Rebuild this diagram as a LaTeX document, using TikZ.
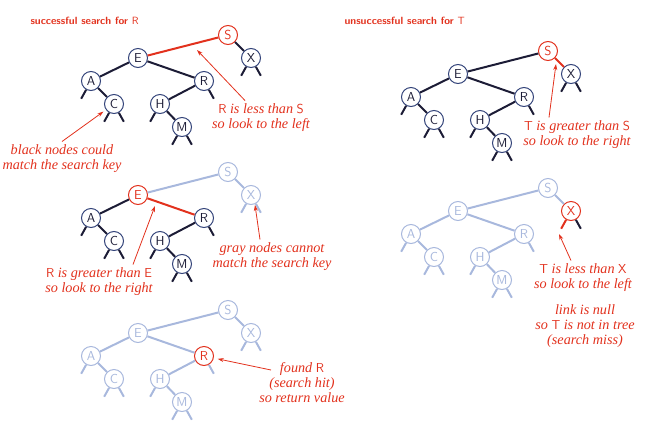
\documentclass[tikz,border=0pt]{standalone}
\usepackage{fontspec}
\usetikzlibrary{arrows.meta}

\newfontfamily\notefont{Liberation Serif}

\definecolor{hitred}{HTML}{E2311D}
\definecolor{keyblue}{HTML}{34447A}
\definecolor{linkdark}{HTML}{1C1C36}
\definecolor{fadeblue}{HTML}{A8B8DD}

\tikzset{
  key/.style={circle, draw=keyblue, fill=white, text=linkdark, line width=1pt,
    minimum size=19pt, inner sep=0pt, font=\sffamily\fontsize{13}{13}\selectfont},
  link/.style={draw=linkdark, line width=2pt},
  hit/.style={draw=hitred, text=hitred},
  faded/.style={draw=fadeblue, text=fadeblue},
  live/.style={draw=linkdark},
  note/.style={text=hitred, align=center, font=\notefont\itshape\fontsize{14.2}{15}\selectfont},
  title/.style={anchor=west, text=hitred, font=\sffamily\bfseries\fontsize{10.5}{12}\selectfont},
  pointer/.style={draw=hitred, line width=0.8pt, -{Stealth[length=6pt,width=4pt]}}
}

\newcommand{\kw}[1]{{\upshape\sffamily\fontsize{13}{15}\selectfont #1}}

% #1 tree name, #2 root position, #3 base style
\newcommand{\bsttree}[3]{%
  \begin{scope}[shift={#2}]
    \node[key, #3, #1S/.try] (#1S) at (0,0) {S};
    \node[key, #3, #1X/.try] (#1X) at (23,23) {X};
    \node[key, #3, #1E/.try] (#1E) at (-90,23) {E};
    \node[key, #3, #1A/.try] (#1A) at (-137,46) {A};
    \node[key, #3, #1C/.try] (#1C) at (-114,69) {C};
    \node[key, #3, #1R/.try] (#1R) at (-24,46) {R};
    \node[key, #3, #1H/.try] (#1H) at (-68,69) {H};
    \node[key, #3, #1M/.try] (#1M) at (-46,92) {M};

    \draw[link, #3, #1SE/.try] (#1S) -- (#1E);
    \draw[link, #3, #1SX/.try] (#1S) -- (#1X);
    \draw[link, #3, #1EA/.try] (#1E) -- (#1A);
    \draw[link, #3, #1ER/.try] (#1E) -- (#1R);
    \draw[link, #3, #1AC/.try] (#1A) -- (#1C);
    \draw[link, #3, #1RH/.try] (#1R) -- (#1H);
    \draw[link, #3, #1HM/.try] (#1H) -- (#1M);

    % null links
    \draw[link, #3, #1Al/.try] (#1A.-119) -- ++(-5,9);
    \draw[link, #3, #1Cl/.try] (#1C.-119) -- ++(-5,9);
    \draw[link, #3, #1Cr/.try] (#1C.-61) -- ++(5,9);
    \draw[link, #3, #1Hl/.try] (#1H.-119) -- ++(-5,9);
    \draw[link, #3, #1Ml/.try] (#1M.-119) -- ++(-5,9);
    \draw[link, #3, #1Mr/.try] (#1M.-61) -- ++(5,9);
    \draw[link, #3, #1Rr/.try] (#1R.-61) -- ++(5,9);
    \draw[link, #3, #1Xl/.try] (#1X.-119) -- ++(-5,9);
    \draw[link, #3, #1Xr/.try] (#1X.-61) -- ++(5,9);
  \end{scope}%
}

\tikzset{
  t1S/.style=hit, t1SE/.style=hit,
  t2S/.style=hit, t2SX/.style=hit,
  t3S/.style=faded, t3X/.style=faded, t3SE/.style=faded, t3SX/.style=faded,
  t3Xl/.style=faded, t3Xr/.style=faded, t3E/.style=hit, t3ER/.style=hit,
  t4X/.style=hit, t4Xl/.style=hit, t4Xr/.style=live,
  t5R/.style=hit
}

\begin{document}
\begin{tikzpicture}[x=1pt, y=-1pt]
  \useasboundingbox (0,0) rectangle (646,421);

  \bsttree{t1}{(228,35)}{}
  \bsttree{t2}{(548,51)}{}
  \bsttree{t3}{(228,172)}{}
  \bsttree{t4}{(548,188)}{faded}
  \bsttree{t5}{(228,310)}{faded}

  \node[title] (hitTitle) at (27,21) {successful search for {\mdseries R}};
  \node[title] (missTitle) at (341,21) {unsuccessful search for {\mdseries T}};

  \node[note] (lessS) at (261,118) {\kw{R} is less than \kw{S}\\so look to the left};
  \node[note] (blackNote) at (62,159) {black nodes could\\match the search key};
  \node[note] (grayNote) at (272,257) {gray nodes cannot\\match the search key};
  \node[note] (greaterE) at (99,282) {\kw{R} is greater than \kw{E}\\so look to the right};
  \node[note] (greaterS) at (577,135) {\kw{T} is greater than \kw{S}\\so look to the right};
  \node[note] (lessX) at (583,278) {\kw{T} is less than \kw{X}\\so look to the left};
  \node[note] (nullNote) at (585,326) {link is null\\so \kw{T} is not in tree\\(search miss)};
  \node[note] (foundNote) at (302,383) {found \kw{R}\\(search hit)\\so return value};

  \coordinate (seTip) at (197,50);
  \coordinate (xTip) at (255,205);
  \coordinate (erTip) at (155,206);
  \coordinate (sxTip) at (556,64);
  \coordinate (nullTip) at (559,234);
  \coordinate (foundTail) at (271,370);

  \draw[pointer] ([xshift=-16pt]lessS.north) -- (seTip);
  \draw[pointer, shorten >=3pt] (blackNote.north) -- (t1C);
  \draw[pointer] ([xshift=-12pt]grayNote.north) -- (xTip);
  \draw[pointer] ([xshift=34pt]greaterE.north) -- (erTip);
  \draw[pointer] ([xshift=-28pt]greaterS.north) -- (sxTip);
  \draw[pointer] ([xshift=-12pt]lessX.north) -- (nullTip);
  \draw[pointer, shorten >=4pt] (foundTail) -- (t5R);
\end{tikzpicture}
\end{document}
